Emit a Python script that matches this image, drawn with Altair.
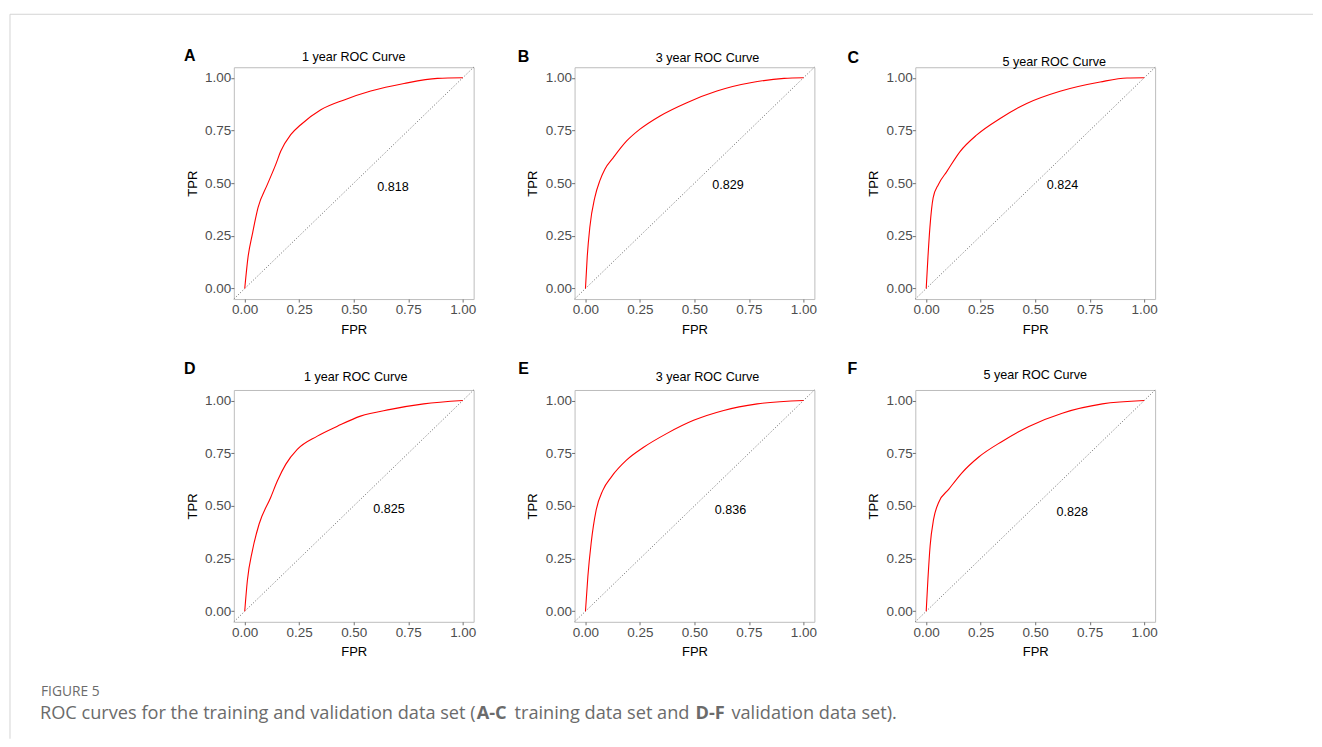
import altair as alt
import pandas as pd

TICKS = [0, 0.25, 0.5, 0.75, 1.0]
DOMAIN = [-0.05, 1.05]
DIAG = [-0.05, 1.05]

A_FPR = [0, 0.015, 0.035, 0.061, 0.104, 0.142, 0.165, 0.211, 0.257, 0.349, 0.456, 0.578, 0.731, 0.884, 1.0]
A_TPR = [0, 0.148, 0.258, 0.384, 0.494, 0.588, 0.651, 0.730, 0.777, 0.848, 0.895, 0.937, 0.973, 0.997, 1.0]
B_FPR = [0, 0.008, 0.020, 0.043, 0.066, 0.089, 0.127, 0.189, 0.250, 0.342, 0.465, 0.603, 0.757, 0.911, 1.0]
B_TPR = [0, 0.149, 0.291, 0.433, 0.512, 0.566, 0.620, 0.700, 0.756, 0.819, 0.882, 0.937, 0.976, 0.997, 1.0]
C_FPR = [0, 0.008, 0.017, 0.032, 0.056, 0.095, 0.156, 0.232, 0.339, 0.461, 0.614, 0.798, 0.921, 1.0]
C_TPR = [0, 0.149, 0.290, 0.431, 0.494, 0.556, 0.651, 0.729, 0.807, 0.878, 0.936, 0.980, 0.999, 1.0]
D_FPR = [0, 0.012, 0.035, 0.066, 0.119, 0.150, 0.188, 0.241, 0.333, 0.425, 0.531, 0.669, 0.821, 1.0]
D_TPR = [0, 0.145, 0.287, 0.414, 0.540, 0.619, 0.697, 0.768, 0.831, 0.878, 0.926, 0.958, 0.984, 1.0]
E_FPR = [0, 0.011, 0.026, 0.049, 0.080, 0.119, 0.188, 0.265, 0.372, 0.496, 0.634, 0.788, 1.0]
E_TPR = [0, 0.165, 0.323, 0.480, 0.575, 0.638, 0.717, 0.777, 0.843, 0.906, 0.953, 0.984, 1.0]
F_FPR = [0, 0.008, 0.018, 0.034, 0.057, 0.103, 0.164, 0.241, 0.348, 0.471, 0.624, 0.808, 1.0]
F_TPR = [0, 0.154, 0.311, 0.437, 0.516, 0.578, 0.657, 0.732, 0.806, 0.877, 0.940, 0.984, 1.0]

LETTERS = ["A", "B", "C", "D", "E", "F"]
TITLES = ["1 year ROC Curve", "3 year ROC Curve", "5 year ROC Curve",
          "1 year ROC Curve", "3 year ROC Curve", "5 year ROC Curve"]
AUC_LABELS = ["0.818", "0.829", "0.824", "0.825", "0.836", "0.828"]
AUC_X = [0.68, 0.654, 0.625, 0.662, 0.665, 0.670]
AUC_Y = [0.48, 0.491, 0.489, 0.487, 0.480, 0.473]

CAPTION_HEAD = "FIGURE 5"
CAPTION_PARTS = ["ROC curves for the training and validation data set (", "A-C",
                 "training data set and", "D-F", "validation data set)."]

FONT = "Liberation Sans"
ONE = pd.DataFrame({"k": [0]})

# layout offsets (pixels relative to each panel's plot area)
LETTER_POS = [(-44, -11), (-51, -10), (-62, -9), (-44, -21), (-51, -21), (-63, -21)]
TITLE_POS = [(120, -10), (133, -9), (139, -5), (122, -13), (133, -13), (120, -15)]

xs = alt.Scale(domain=DOMAIN, nice=False, zero=False)
ys = alt.Scale(domain=DOMAIN, nice=False, zero=False)
xax = alt.Axis(values=TICKS, format=".2f", title="FPR", labelFlush=False)
yax = alt.Axis(values=TICKS, format=".2f", title="TPR", labelFlush=False)


def panel(i, fpr, tpr, extra=None):
    df = pd.DataFrame({"FPR": fpr, "TPR": tpr})
    x = alt.X("FPR:Q", scale=xs, axis=xax)
    y = alt.Y("TPR:Q", scale=ys, axis=yax)
    diag = alt.Chart(pd.DataFrame({"FPR": DIAG, "TPR": DIAG})).mark_line(
        color="#555555", strokeWidth=0.9, strokeDash=[1, 2]
    ).encode(x=x, y=y)
    curve = alt.Chart(df).mark_line(color="#ff0000", strokeWidth=1.1, interpolate="monotone").encode(x=x, y=y)
    auc = alt.Chart(pd.DataFrame({"FPR": [AUC_X[i]], "TPR": [AUC_Y[i]], "lab": [AUC_LABELS[i]]})).mark_text(
        font=FONT, fontSize=12.6, color="black", align="center", baseline="middle"
    ).encode(x=x, y=y, text="lab:N")
    lx, ly = LETTER_POS[i]
    letter = alt.Chart(ONE).mark_text(
        text=LETTERS[i], font=FONT, fontSize=16, fontWeight="bold", color="black",
        align="center", baseline="middle"
    ).encode(x=alt.value(lx), y=alt.value(ly))
    tx, ty = TITLE_POS[i]
    title = alt.Chart(ONE).mark_text(
        text=TITLES[i], font=FONT, fontSize=12.6, color="black", align="center", baseline="middle"
    ).encode(x=alt.value(tx), y=alt.value(ty))
    layers = [diag, curve, auc, letter, title]
    if extra:
        layers += extra
    return alt.layer(*layers).properties(width=240, height=232)


# frame and caption decorations (placed relative to panel A)
frame_top = alt.Chart(ONE).mark_rule(color="#d4d4d4", strokeWidth=1).encode(
    x=alt.value(-224), x2=alt.value(1080), y=alt.value(-53))
frame_left = alt.Chart(ONE).mark_rule(color="#d4d4d4", strokeWidth=1).encode(
    x=alt.value(-224), y=alt.value(-53), y2=alt.value(672))
cap_head = alt.Chart(ONE).mark_text(
    text=CAPTION_HEAD, font="Open Sans", fontSize=13.8, color="#6b6b6b", align="left",
    baseline="alphabetic"
).encode(x=alt.value(-193), y=alt.value(629))
cap_style = dict(font="Open Sans", fontSize=18.2, color="#6b6b6b", baseline="alphabetic")
cap1 = alt.Chart(ONE).mark_text(text=CAPTION_PARTS[0], align="right", **cap_style).encode(
    x=alt.value(242), y=alt.value(652))
cap2 = alt.Chart(ONE).mark_text(text=CAPTION_PARTS[1], align="left", fontWeight="bold", **cap_style).encode(
    x=alt.value(243), y=alt.value(652))
cap3 = alt.Chart(ONE).mark_text(text=CAPTION_PARTS[2], align="right", **cap_style).encode(
    x=alt.value(456), y=alt.value(652))
cap4 = alt.Chart(ONE).mark_text(text=CAPTION_PARTS[3], align="left", fontWeight="bold", **cap_style).encode(
    x=alt.value(462), y=alt.value(652))
cap5 = alt.Chart(ONE).mark_text(text=CAPTION_PARTS[4], align="left", **cap_style).encode(
    x=alt.value(498), y=alt.value(652))

decor = [frame_top, frame_left, cap_head, cap1, cap2, cap3, cap4, cap5]

panels = [
    panel(0, A_FPR, A_TPR, decor),
    panel(1, B_FPR, B_TPR),
    panel(2, C_FPR, C_TPR),
    panel(3, D_FPR, D_TPR),
    panel(4, E_FPR, E_TPR),
    panel(5, F_FPR, F_TPR),
]

chart = alt.concat(
    *panels, columns=3, spacing={"row": 91, "column": 101}, bounds="flush"
).properties(
    padding={"left": 1, "top": 5, "right": 0, "bottom": 0}
).configure_view(
    stroke="#bdbdbd", strokeWidth=1
).configure_axis(
    domain=False, grid=False, tickSize=3, tickColor="#4d4d4d", tickWidth=0.8,
    labelFont=FONT, labelFontSize=13.5, labelColor="#4d4d4d",
    titleFont=FONT, titleFontSize=13, titleFontWeight="normal", titleColor="black"
).configure_axisX(
    labelPadding=0.5, titlePadding=7
).configure_axisY(
    labelPadding=0, titlePadding=5.5
)

chart.save("out.html", embed_options={"renderer": "svg", "actions": False})
